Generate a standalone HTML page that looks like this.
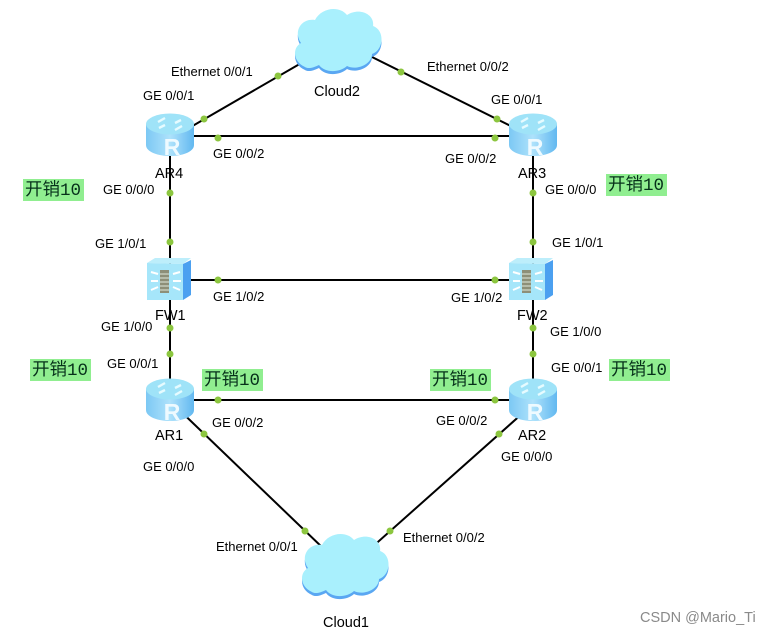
<!DOCTYPE html>
<html><head><meta charset="utf-8"><style>
html,body{margin:0;padding:0;background:#fff}
svg{display:block}
text{font-family:"Liberation Sans",sans-serif;font-size:13px;fill:#000}
text.n{font-size:14.5px}
.h{font-family:"Liberation Mono","Noto Sans CJK SC",monospace;font-size:17.5px;fill:#06301a}
</style></head><body>
<svg width="771" height="633" viewBox="0 0 771 633" xmlns="http://www.w3.org/2000/svg">
<defs>
<linearGradient id="rb" x1="0" x2="1" y1="0" y2="0"><stop offset="0" stop-color="#7cc8f4"/><stop offset=".5" stop-color="#aee2fb"/><stop offset="1" stop-color="#62b8f0"/></linearGradient>
<g id="router">
<path d="M-24-12V9C-24 16-12 20 0 20S24 16 24 9V-12Z" fill="url(#rb)"/>
<ellipse cx="0" cy="-12" rx="24" ry="10.5" fill="#9fe3f8"/>
<path d="M-12-14l7-4M12-10l-7 4M-11-8l6-3M11-16l-6 3" stroke="#e6fbff" stroke-width="2.4" fill="none"/>
<text x="2" y="19" text-anchor="middle" style="font-size:23px;font-weight:bold;fill:#eefaff">R</text>
</g>
<g id="fw">
<path d="M-23-17L-15-22H21L13-16Z" fill="#bdeefb"/>
<path d="M13-16L21-20V15L13 20Z" fill="#4ba0f0"/>
<path d="M-23-17L13-16V20H-23Z" fill="#a6e6fa"/>
<rect x="-10" y="-10" width="9" height="23" fill="#8d8f78"/>
<path d="M-10-6h9M-10-2h9M-10 2h9M-10 6h9M-10 10h9" stroke="#dfe8dc" stroke-width="1"/>
<path d="M-19-8l7 2M-19 1h7M-19 10l7-3M3-6l7-2M3 1h8M3 7l7 3" stroke="#fff" stroke-width="2"/>
</g>
<g id="cloud">
<path d="M-34 27C-46 22-47 8-38 3-46-8-38-22-24-20-18-32 0-35 8-25 20-33 36-26 34-14 46-10 45 10 33 14 33 24 18 31 8 26 0 33-14 33-20 25-26 28-31 29-34 27Z" fill="#5aa7f2" transform="translate(0 3)"/>
<path d="M-34 27C-46 22-47 8-38 3-46-8-38-22-24-20-18-32 0-35 8-25 20-33 36-26 34-14 46-10 45 10 33 14 33 24 18 31 8 26 0 33-14 33-20 25-26 28-31 29-34 27Z" fill="#a9f0fd"/>
</g>
</defs>
<g stroke="#000" stroke-width="2" fill="none">
<path d="M170 136H533M170 280H533M170 400H533M170 136V400M533 136V400"/>
<path d="M170 139L310 58M533 137L370 56M170 401L325 550M533 404L370 549"/>
</g>
<g fill="#8cc63f">
<circle cx="278" cy="76" r="3.5"/><circle cx="204" cy="119" r="3.5"/><circle cx="218" cy="138" r="3.5"/>
<circle cx="401" cy="72" r="3.5"/><circle cx="497" cy="119" r="3.5"/><circle cx="495" cy="138" r="3.5"/>
<circle cx="170" cy="193" r="3.5"/><circle cx="170" cy="242" r="3.5"/><circle cx="533" cy="193" r="3.5"/><circle cx="533" cy="242" r="3.5"/>
<circle cx="218" cy="280" r="3.5"/><circle cx="495" cy="280" r="3.5"/>
<circle cx="170" cy="328" r="3.5"/><circle cx="170" cy="354" r="3.5"/><circle cx="533" cy="328" r="3.5"/><circle cx="533" cy="354" r="3.5"/>
<circle cx="218" cy="400" r="3.5"/><circle cx="495" cy="400" r="3.5"/>
<circle cx="204" cy="434" r="3.5"/><circle cx="499" cy="434" r="3.5"/><circle cx="305" cy="531" r="3.5"/><circle cx="390" cy="531" r="3.5"/>
</g>
<use href="#cloud" x="339" y="40"/><use href="#cloud" x="346" y="565"/>
<use href="#router" x="170" y="136"/><use href="#router" x="533" y="136"/>
<use href="#router" x="170" y="401"/><use href="#router" x="533" y="401"/>
<use href="#fw" x="170" y="280"/><use href="#fw" x="532" y="280"/>
<g fill="#90ee90">
<rect x="23" y="179" width="61" height="22"/><rect x="606" y="174" width="61" height="22"/>
<rect x="30" y="359" width="61" height="22"/><rect x="202" y="369" width="61" height="22"/>
<rect x="430" y="369" width="61" height="22"/><rect x="609" y="359" width="61" height="22"/>
</g>
<text class="h" x="25" y="195">开销10</text><text class="h" x="608" y="190">开销10</text>
<text class="h" x="32" y="375">开销10</text><text class="h" x="204" y="385">开销10</text>
<text class="h" x="432" y="385">开销10</text><text class="h" x="611" y="375">开销10</text>
<text x="171" y="76">Ethernet 0/0/1</text><text x="427" y="71">Ethernet 0/0/2</text>
<text x="143" y="100">GE 0/0/1</text><text x="491" y="104">GE 0/0/1</text>
<text x="213" y="158">GE 0/0/2</text><text x="445" y="163">GE 0/0/2</text>
<text x="103" y="194">GE 0/0/0</text><text x="545" y="194">GE 0/0/0</text>
<text x="95" y="248">GE 1/0/1</text><text x="552" y="247">GE 1/0/1</text>
<text x="213" y="301">GE 1/0/2</text><text x="451" y="302">GE 1/0/2</text>
<text x="101" y="331">GE 1/0/0</text><text x="550" y="336">GE 1/0/0</text>
<text x="107" y="368">GE 0/0/1</text><text x="551" y="372">GE 0/0/1</text>
<text x="212" y="427">GE 0/0/2</text><text x="436" y="425">GE 0/0/2</text>
<text x="143" y="471">GE 0/0/0</text><text x="501" y="461">GE 0/0/0</text>
<text x="216" y="551">Ethernet 0/0/1</text><text x="403" y="542">Ethernet 0/0/2</text>
<text class="n" x="155" y="178">AR4</text><text class="n" x="518" y="178">AR3</text>
<text class="n" x="155" y="320">FW1</text><text class="n" x="517" y="320">FW2</text>
<text class="n" x="155" y="440">AR1</text><text class="n" x="518" y="440">AR2</text>
<text class="n" x="314" y="96">Cloud2</text><text class="n" x="323" y="627">Cloud1</text>
<text class="n" x="640" y="622" style="fill:#8a8a8a">CSDN @Mario_Ti</text>
</svg>
</body></html>
